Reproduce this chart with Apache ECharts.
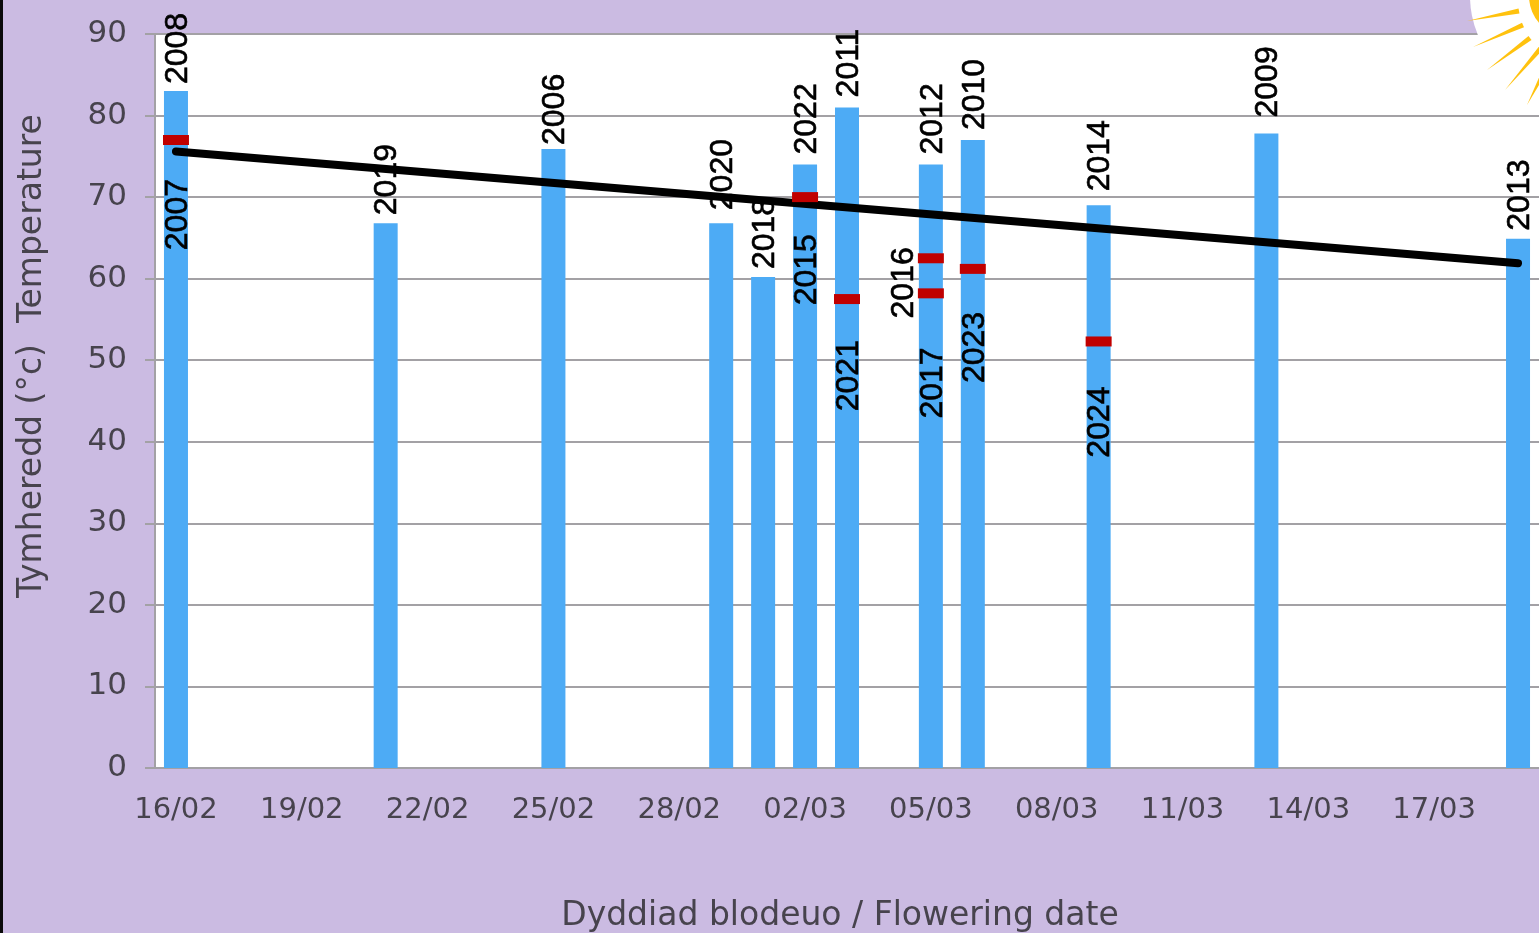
<!DOCTYPE html>
<html><head><meta charset="utf-8">
<style>html,body{margin:0;padding:0;background:#CBBBE2}#c{width:1539px;height:933px}</style>
<script src="https://cdn.jsdelivr.net/npm/echarts@6/dist/echarts.min.js"></script>
</head><body><div id="c"></div>
<script>
const dates = ['16/02','17/02','18/02','19/02','20/02','21/02','22/02','23/02','24/02','25/02','26/02','27/02','28/02','29/02','01/03','02/03','03/03','04/03','05/03','06/03','07/03','08/03','09/03','10/03','11/03','12/03','13/03','14/03','15/03','16/03','17/03','18/03','19/03'];
const yTicks = [0,10,20,30,40,50,60,70,80,90];
const barDates  = ['16/02','21/02','25/02','29/02','01/03','02/03','03/03','05/03','06/03','09/03','13/03','19/03'];
const barYears  = ['2008','2019','2006','2020','2018','2022','2011','2012','2010','2014','2009','2013'];
const barValues = [83,66.8,75.9,66.8,60.2,74,81,74,77,69,77.8,64.9];
const redDates  = ['16/02','02/03','03/03','05/03','05/03','06/03','09/03'];
const redYears  = ['2007','2015','2021','2016','2017','2023','2024'];
const redValues = [77,70,57.5,62.5,58.2,61.2,52.3];
const trendDates = ['16/02','19/03'];
const trendValues = [75.6,61.9];

const barLabelGap = {'2008':7,'2019':8,'2006':4,'2020':13,'2018':8,'2022':10,'2011':10,'2012':10,'2010':10,'2014':14,'2009':16,'2013':8};
const redLabelStyle = {
  '2007':{distance:34},'2015':{distance:32},'2021':{distance:36},
  '2017':{distance:49},'2023':{distance:38},'2024':{distance:40},
  '2016':{position:'left',distance:14,offset:[11,0]}
};
const uiFont = 'DejaVu Sans';
const txt = '#47434d';
const axisGrey = '#a3a1a5';

function ray(x1,y1,x2,y2,w){
  const dx=x2-x1,dy=y2-y1,l=Math.hypot(dx,dy),nx=-dy/l*w/2,ny=dx/l*w/2;
  return {type:'polygon',z:30,silent:true,shape:{points:[[x1+nx,y1+ny],[x1-nx,y1-ny],[x2,y2]]},style:{fill:'#FFC20E'}};
}
const chart = echarts.init(document.getElementById('c'),null,{renderer:'canvas'});
chart.setOption({
  animation:false,
  backgroundColor:'#CBBBE2',
  grid:{left:155,right:0,top:34,bottom:165,show:true,backgroundColor:'#fff',borderWidth:0,outerBoundsMode:'none'},
  xAxis:{
    type:'category',data:dates,boundaryGap:true,
    axisLine:{show:true,lineStyle:{color:axisGrey,width:2}},axisTick:{show:false},splitLine:{show:false},
    axisLabel:{interval:2,margin:28,fontFamily:uiFont,fontSize:29,color:txt,hideOverlap:false},
    name:'Dyddiad blodeuo / Flowering date',nameLocation:'middle',nameGap:132,
    nameTextStyle:{fontFamily:uiFont,fontSize:33,color:txt,padding:[0,14,0,0]}
  },
  yAxis:{
    type:'value',min:0,max:90,interval:10,
    axisLine:{show:true,lineStyle:{color:axisGrey,width:2}},
    axisTick:{show:true,length:10,lineStyle:{color:axisGrey,width:2}},
    splitLine:{show:true,lineStyle:{color:axisGrey,width:2}},
    axisLabel:{margin:28,fontFamily:uiFont,fontSize:31,color:txt,padding:[8,0,0,0],
      formatter:v=>yTicks.includes(v)?String(v):''},
    name:'Tymheredd (°c)  Temperature',nameLocation:'middle',nameGap:106,nameRotate:90,
    nameTextStyle:{fontFamily:uiFont,fontSize:33,color:txt,padding:[0,0,0,90]}
  },
  series:[
    {type:'bar',z:2,barWidth:24,itemStyle:{color:'#4DABF5'},
     data:barDates.map((d,i)=>({value:[d,barValues[i]],year:barYears[i],
        label:{distance:barLabelGap[barYears[i]]}})),
     encode:{x:0,y:1},
     label:{show:true,position:'top',rotate:90,align:'left',verticalAlign:'middle',offset:[0,2],
       fontFamily:'Liberation Sans',fontSize:32,color:'#000',textBorderColor:'#000',textBorderWidth:0.6,
       formatter:p=>p.data.year}},
    {type:'line',z:3,data:trendDates.map((d,i)=>[d,trendValues[i]]),symbol:'none',
     lineStyle:{color:'#000',width:8,cap:'round'}},
    {type:'scatter',z:4,symbol:'rect',symbolSize:[26,10],itemStyle:{color:'#C00000',opacity:1},
     data:redDates.map((d,i)=>{
       const s=redLabelStyle[redYears[i]];
       return {value:[d,redValues[i]],year:redYears[i],
         label:{position:s.position||'bottom',distance:s.distance,offset:s.offset||[0,2]}};
     }),
     label:{show:true,rotate:90,align:'right',verticalAlign:'middle',
       fontFamily:'Liberation Sans',fontSize:32,color:'#000',textBorderColor:'#000',textBorderWidth:0.6,
       formatter:p=>p.data.year}}
  ],
  graphic:[
    {type:'rect',z:30,silent:true,shape:{x:0,y:0,width:3,height:933},style:{fill:'#0a0a0a'}},
    {type:'circle',z:29,silent:true,shape:{cx:1570,cy:-4,r:100},style:{fill:'#fff'}},
    {type:'circle',z:30,silent:true,shape:{cx:1570,cy:-4,r:41},style:{fill:'#FFC20E'}},
    ray(1519,11,1467,21,5),ray(1523,25,1473,47,5),ray(1530,38,1487,70,5),
    ray(1541,48,1505,90,5),ray(1545,70,1527,105,5)
  ]
});
</script></body></html>
